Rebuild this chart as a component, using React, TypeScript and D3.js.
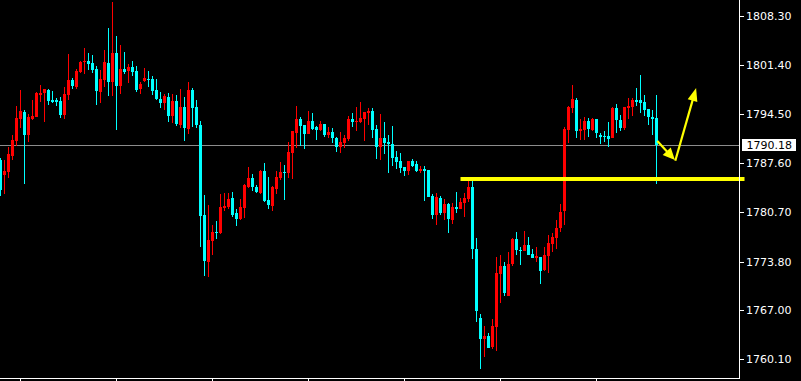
import React from 'react';
import * as d3 from 'd3';

const opens = [
  1788.07,1785.96,1786.38,1788.63,1790.73,1793.83,1794.81,1791.58,1793.83,1794.11,
  1797.20,1797.48,1797.90,1796.50,1796.50,1796.36,1794.39,1797.20,1799.31,1798.32,
  1800.43,1801.84,1801.98,1801.70,1800.85,1797.62,1799.31,1801.70,1799.03,1803.10,
  1798.46,1800.85,1800.57,1801.13,1800.57,1798.04,1799.17,1799.45,1799.45,1797.90,
  1796.64,1796.07,1796.92,1794.25,1796.36,1792.98,1795.51,1792.42,1797.90,1795.51,
  1792.98,1780.33,1773.73,1776.68,1777.95,1777.80,1781.32,1781.46,1782.72,1780.62,
  1779.77,1781.32,1784.27,1785.54,1784.27,1783.43,1786.52,1782.44,1781.60,1783.99,
  1785.54,1786.38,1786.24,1789.05,1791.86,1793.83,1792.98,1791.72,1793.55,1792.70,
  1792.28,1793.12,1791.58,1792.00,1791.16,1789.89,1790.45,1791.02,1793.83,1793.40,
  1793.40,1793.83,1794.67,1794.95,1792.42,1789.89,1791.16,1790.59,1790.31,1788.49,
  1787.92,1787.08,1786.52,1787.92,1787.50,1786.52,1786.80,1786.66,1783.01,1780.33,
  1782.72,1780.62,1781.88,1779.63,1781.46,1781.18,1782.02,1782.58,1784.27,1775.56,
  1765.86,1762.91,1763.33,1761.79,1764.59,1772.04,1773.17,1768.95,1773.45,1776.96,
  1775.42,1775.28,1776.12,1774.86,1774.29,1774.43,1772.61,1774.57,1776.26,1777.10,
  1778.51,1780.90,1792.28,1795.37,1796.50,1792.14,1792.28,1793.55,1792.28,1793.83,
  1791.58,1791.44,1791.44,1791.16,1795.37,1793.69,1792.56,1795.37,1795.51,1796.50,
  1796.50,1796.22,1795.23,1794.11,1793.97,
];
const highs = [
  1788.35,1788.07,1789.89,1791.58,1795.65,1797.90,1795.09,1794.53,1796.50,1797.62,
  1798.60,1798.04,1798.04,1797.76,1796.78,1796.92,1798.32,1802.96,1799.59,1800.85,
  1801.98,1803.80,1803.10,1802.82,1801.27,1800.71,1803.52,1806.61,1810.27,1805.49,
  1804.22,1803.24,1801.56,1801.98,1801.27,1799.03,1800.99,1800.57,1799.87,1799.45,
  1797.62,1797.34,1797.48,1797.34,1797.20,1798.04,1796.92,1799.03,1798.18,1796.50,
  1793.55,1783.15,1781.74,1778.93,1779.49,1783.29,1783.43,1783.43,1783.57,1781.18,
  1782.58,1784.69,1787.08,1786.10,1784.55,1786.66,1787.64,1785.68,1784.41,1786.52,
  1787.78,1787.36,1790.59,1792.14,1795.65,1794.11,1792.98,1794.95,1794.67,1792.84,
  1793.55,1793.12,1792.70,1792.56,1791.30,1792.00,1791.58,1794.25,1794.67,1795.51,
  1796.22,1794.81,1795.37,1795.37,1792.98,1794.53,1793.40,1791.58,1792.84,1789.33,
  1789.05,1787.08,1787.92,1788.21,1787.92,1787.22,1787.22,1786.66,1783.29,1783.43,
  1783.01,1782.58,1782.02,1782.02,1783.57,1782.72,1783.43,1785.25,1785.11,1777.10,
  1766.42,1764.74,1763.75,1765.72,1774.43,1774.72,1773.73,1775.14,1777.10,1777.95,
  1775.84,1778.09,1777.24,1775.56,1775.84,1774.43,1775.84,1777.52,1777.80,1779.63,
  1781.88,1792.70,1795.65,1798.60,1796.78,1793.83,1794.11,1793.97,1793.97,1793.83,
  1791.86,1792.14,1793.40,1795.51,1795.93,1794.39,1795.51,1796.78,1796.78,1798.18,
  1800.01,1797.20,1795.23,1795.09,1797.20,
];
const lows = [
  1783.01,1783.29,1785.54,1788.07,1790.03,1792.56,1784.69,1790.59,1793.69,1794.11,
  1796.22,1793.40,1795.79,1796.07,1795.65,1793.97,1793.83,1796.50,1798.04,1798.04,
  1800.29,1800.15,1800.71,1800.29,1795.79,1796.07,1798.32,1797.06,1797.06,1792.28,
  1797.34,1800.15,1798.89,1799.87,1797.62,1797.34,1799.03,1798.32,1797.20,1796.50,
  1795.37,1795.09,1793.40,1793.26,1792.84,1792.56,1790.73,1791.72,1792.70,1792.56,
  1775.84,1771.76,1771.62,1774.72,1776.96,1777.66,1780.90,1781.18,1780.05,1778.79,
  1779.63,1779.91,1784.13,1783.71,1783.43,1783.29,1782.16,1781.18,1780.90,1783.29,
  1785.25,1782.44,1785.54,1785.39,1789.75,1790.03,1789.61,1791.72,1792.28,1790.88,
  1792.14,1791.30,1791.16,1790.45,1789.19,1789.05,1789.75,1790.73,1792.70,1792.14,
  1793.26,1790.73,1792.98,1791.16,1788.21,1788.07,1788.91,1786.24,1787.22,1786.80,
  1786.24,1785.82,1785.96,1787.08,1786.38,1786.24,1782.30,1782.86,1779.77,1778.93,
  1780.33,1779.63,1777.80,1779.07,1780.62,1781.18,1780.05,1782.16,1774.15,1765.30,
  1758.69,1760.38,1761.64,1761.50,1761.22,1767.97,1768.95,1768.95,1773.17,1774.72,
  1773.31,1775.28,1774.72,1774.29,1773.73,1770.64,1772.47,1772.18,1775.14,1775.56,
  1777.95,1778.93,1790.45,1794.67,1791.16,1790.88,1790.88,1791.30,1792.14,1791.16,
  1790.31,1790.59,1789.89,1791.16,1791.86,1792.14,1792.28,1793.83,1794.25,1795.65,
  1794.67,1794.25,1792.98,1791.58,1784.69,
];
const closes = [
  1783.85,1786.52,1788.91,1790.88,1793.97,1794.95,1791.58,1794.11,1794.25,1797.48,
  1797.48,1798.04,1796.36,1796.22,1796.22,1794.39,1797.34,1799.31,1798.46,1800.57,
  1801.84,1801.98,1801.56,1800.71,1797.76,1799.45,1801.84,1799.03,1803.10,1798.46,
  1800.85,1800.43,1801.13,1800.43,1797.90,1798.74,1799.59,1799.31,1797.76,1796.64,
  1796.07,1797.06,1794.25,1796.36,1793.12,1795.51,1792.56,1797.90,1795.37,1792.98,
  1780.19,1773.87,1776.82,1777.95,1777.80,1781.46,1781.60,1782.58,1780.33,1779.77,
  1781.46,1784.55,1785.54,1784.27,1783.57,1786.52,1782.30,1781.74,1784.27,1785.68,
  1786.38,1786.24,1789.19,1792.14,1793.83,1792.84,1791.72,1793.55,1792.42,1792.28,
  1793.12,1791.58,1792.00,1791.16,1789.89,1790.59,1791.16,1793.83,1793.40,1793.55,
  1793.97,1794.81,1794.95,1792.28,1789.89,1791.16,1790.45,1790.31,1788.35,1787.78,
  1786.94,1786.52,1787.92,1787.22,1786.52,1786.80,1786.52,1782.86,1780.33,1782.86,
  1780.62,1781.88,1779.77,1781.46,1781.18,1782.16,1782.72,1784.27,1775.56,1766.84,
  1762.91,1763.33,1761.64,1764.74,1772.18,1773.17,1769.37,1773.45,1776.96,1775.42,
  1775.28,1776.12,1774.72,1774.29,1774.57,1772.47,1774.72,1776.40,1777.24,1778.51,
  1780.76,1792.42,1795.51,1796.64,1792.14,1792.42,1793.55,1792.42,1793.83,1791.86,
  1791.30,1791.30,1791.02,1795.37,1793.69,1792.56,1795.51,1795.65,1796.50,1796.22,
  1796.07,1795.09,1794.11,1793.83,1790.18,
];

const priceTicks = [1808.3, 1801.4, 1794.5, 1787.6, 1780.7, 1773.8, 1767.0, 1760.1];
const timeTickIndex = [5, 29, 53, 77, 101, 125, 149];
const lastPrice = 1790.18;
const supportLevel = 1785.39;
const supportRange = [115, 186];
const arrowA: [number, number][] = [[164.2, 1790.73], [168.6, 1788.07]];
const arrowB: [number, number][] = [[168.7, 1787.95], [173.9, 1798.18]];

const W = 801;
const H = 381;
const AXIS_X = 739.5;
const AXIS_Y = 378.5;

const UP = '#ff0000';
const DOWN = '#00ffff';
const YELLOW = '#ffff00';

function arrow(pts: [number, number][], x: d3.ScaleLinear<number, number>, y: d3.ScaleLinear<number, number>, len: number, half: number) {
  const x1 = x(pts[0][0]), y1 = y(pts[0][1]);
  const x2 = x(pts[1][0]), y2 = y(pts[1][1]);
  const dx = x2 - x1, dy = y2 - y1;
  const d = Math.hypot(dx, dy);
  const ux = dx / d, uy = dy / d;
  const bx = x2 - ux * len, by = y2 - uy * len;
  const nx = -uy, ny = ux;
  const head = `M${x2},${y2}L${bx + nx * half},${by + ny * half}L${bx - nx * half},${by - ny * half}Z`;
  return { line: { x1, y1, x2: bx + ux * 2, y2: by + uy * 2 }, head };
}

export default function App() {
  const x = d3.scaleLinear().domain([0, 164]).range([0.5, 656.5]);
  const y = d3.scaleLinear().domain([1760.1, 1808.3]).range([359, 16]);

  const candles = opens.map((o, i) => {
    const c = closes[i];
    const up = c >= o;
    const cx = x(i);
    const top = Math.round(y(Math.max(o, c)));
    const bot = Math.round(y(Math.min(o, c)));
    const hi = Math.round(y(highs[i]));
    const lo = Math.round(y(lows[i]));
    const col = up ? UP : DOWN;
    return (
      <g key={i}>
        <rect x={cx - 0.5} y={hi} width={1} height={Math.max(1, lo - hi)} fill={col} />
        <rect x={cx - 1.5} y={top} width={3} height={Math.max(1, bot - top)} fill={col} />
      </g>
    );
  });

  const a1 = arrow(arrowA, x, y, 12, 5.5);
  const a2 = arrow(arrowB, x, y, 13, 5);
  const lastY = Math.round(y(lastPrice)) + 0.5;
  const supY = y(supportLevel);

  return (
    <svg width={W} height={H} style={{ position: 'absolute', left: 0, top: 0, display: 'block' }}
      fontFamily="DejaVu Sans" shapeRendering="crispEdges">
      <rect x={0} y={0} width={W} height={H} fill="#000000" />
      <line x1={0} x2={AXIS_X} y1={lastY} y2={lastY} stroke="#8c8c8c" strokeWidth={1} />
      {candles}
      <g shapeRendering="auto">
        <line x1={x(supportRange[0])} x2={x(supportRange[1])} y1={supY} y2={supY} stroke={YELLOW} strokeWidth={4} />
        <line {...a1.line} stroke={YELLOW} strokeWidth={2.2} />
        <path d={a1.head} fill={YELLOW} />
        <line {...a2.line} stroke={YELLOW} strokeWidth={2.2} />
        <path d={a2.head} fill={YELLOW} />
      </g>
      <line x1={AXIS_X} x2={AXIS_X} y1={0} y2={AXIS_Y} stroke="#ffffff" strokeWidth={1} />
      <line x1={0} x2={AXIS_X + 0.5} y1={AXIS_Y} y2={AXIS_Y} stroke="#ffffff" strokeWidth={1} />
      {timeTickIndex.map((t) => (
        <line key={t} x1={x(t)} x2={x(t)} y1={AXIS_Y} y2={H} stroke="#ffffff" strokeWidth={1} />
      ))}
      {priceTicks.map((p) => {
        const ty = Math.round(y(p)) + 0.5;
        return (
          <g key={p}>
            <line x1={AXIS_X} x2={AXIS_X + 4} y1={ty} y2={ty} stroke="#ffffff" strokeWidth={1} />
            <text x={746} y={ty} dy="0.36em" fontSize={11} fill="#ffffff" shapeRendering="auto">{p.toFixed(2)}</text>
          </g>
        );
      })}
      <rect x={742} y={139} width={54} height={12} fill="#ffffff" />
      <text x={746.5} y={145} dy="0.36em" fontSize={11} fill="#000000">{lastPrice.toFixed(2)}</text>
    </svg>
  );
}
